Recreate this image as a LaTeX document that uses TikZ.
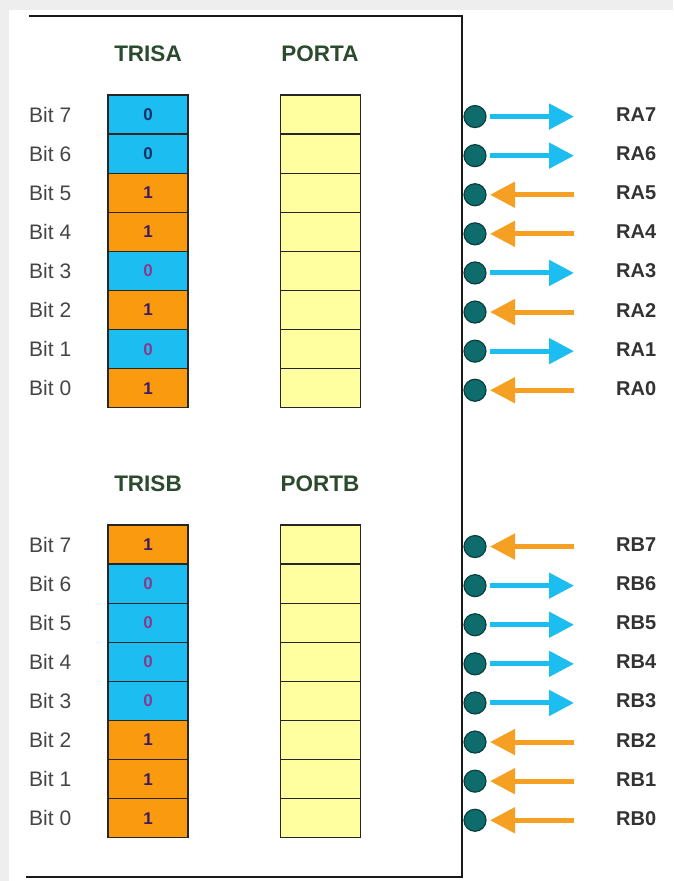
\documentclass[tikz,border=0pt]{standalone}
\usepackage{fontspec}
\setmainfont{Liberation Sans}
\usetikzlibrary{arrows.meta}
\definecolor{cy}{HTML}{1CBDF0}
\definecolor{orcell}{HTML}{FA9A0E}
\definecolor{orarrow}{HTML}{F5A023}
\definecolor{yel}{HTML}{FFFFA0}
\definecolor{teal1}{HTML}{0E6C6C}
\definecolor{teal2}{HTML}{0A3F3F}
\definecolor{hdr}{HTML}{2B4A2E}
\definecolor{navy1}{HTML}{1B2F66}
\definecolor{pink1}{HTML}{8A3A8E}
\definecolor{purp1}{HTML}{3D1A66}
\definecolor{bitgrey}{HTML}{454545}
\definecolor{band}{HTML}{EEEEEE}
\tikzset{
  hdrlabel/.style={font=\fontsize{22.5}{24}\selectfont\bfseries, text=hdr},
  bitlabel/.style={font=\fontsize{21}{23}\selectfont, text=bitgrey, anchor=west, inner sep=0},
  pinlabel/.style={font=\fontsize{20}{22}\selectfont\bfseries, text=black!80, anchor=west, inner sep=0},
  regcell/.style={draw=black!85, line width=1.3pt, minimum width=80pt, minimum height=39.1pt, inner sep=0, font=\fontsize{17}{19}\selectfont\bfseries},
  pincirc/.style={circle, fill=teal1, draw=teal2, line width=1.2pt, minimum size=22pt, inner sep=0},
  outarrow/.style={draw=cy, line width=5pt, -{Triangle[length=25pt,width=25pt]}},
  inarrow/.style={draw=orarrow, line width=5pt, -{Triangle[length=25pt,width=25pt]}},
  frameline/.style={draw=black!90, line width=2.6pt}
}
\begin{document}
\begin{tikzpicture}[x=1pt,y=-1pt]
\useasboundingbox (0,0) rectangle (673,881);
\fill[band] (0,0) rectangle (673,10);
\fill[band] (0,0) rectangle (9,881);
\draw[frameline] (29,16) -- (462,16) -- (462,877) -- (26,877);

% headers
\node[hdrlabel] (trisa) at (148,54) {TRISA};
\node[hdrlabel] (porta) at (320,54) {PORTA};
\node[hdrlabel] (trisb) at (148,484) {TRISB};
\node[hdrlabel] (portb) at (320,484) {PORTB};

% section A
\foreach \v [count=\k from 0] in {0,0,1,1,0,1,0,1} {
  \pgfmathtruncatemacro\b{7-\k}
  \pgfmathsetmacro\yc{95+(\k+0.5)*39.1}
  \pgfmathsetmacro\yp{\yc+2}
  \ifnum\v=0
    \def\fc{cy}\ifnum\k<2 \def\tc{navy1}\else\def\tc{pink1}\fi
  \else
    \def\fc{orcell}\def\tc{purp1}
  \fi
  \node[bitlabel] (bA\b) at (29,\yc) {Bit \b};
  \node[regcell, fill=\fc, text=\tc] (tA\b) at (148,\yc) {\v};
  \node[regcell, fill=yel] (pA\b) at (320.5,\yc) {};
  \node[pincirc] (cA\b) at (475,\yp) {};
  \node[pinlabel] (lA\b) at (616,\yc) {RA\b};
  \coordinate (xA\b) at (490,\yp);
  \coordinate (yA\b) at (574,\yp);
  \ifnum\v=0
    \draw[outarrow] (xA\b) -- (yA\b);
  \else
    \draw[inarrow] (yA\b) -- (xA\b);
  \fi
}

% section B
\foreach \v [count=\k from 0] in {1,0,0,0,0,1,1,1} {
  \pgfmathtruncatemacro\b{7-\k}
  \pgfmathsetmacro\yc{525+(\k+0.5)*39.1}
  \pgfmathsetmacro\yp{\yc+2}
  \ifnum\v=0
    \def\fc{cy}\def\tc{pink1}
  \else
    \def\fc{orcell}\def\tc{purp1}
  \fi
  \node[bitlabel] (bB\b) at (29,\yc) {Bit \b};
  \node[regcell, fill=\fc, text=\tc] (tB\b) at (148,\yc) {\v};
  \node[regcell, fill=yel] (pB\b) at (320.5,\yc) {};
  \node[pincirc] (cB\b) at (475,\yp) {};
  \node[pinlabel] (lB\b) at (616,\yc) {RB\b};
  \coordinate (xB\b) at (490,\yp);
  \coordinate (yB\b) at (574,\yp);
  \ifnum\v=0
    \draw[outarrow] (xB\b) -- (yB\b);
  \else
    \draw[inarrow] (yB\b) -- (xB\b);
  \fi
}
\end{tikzpicture}
\end{document}
